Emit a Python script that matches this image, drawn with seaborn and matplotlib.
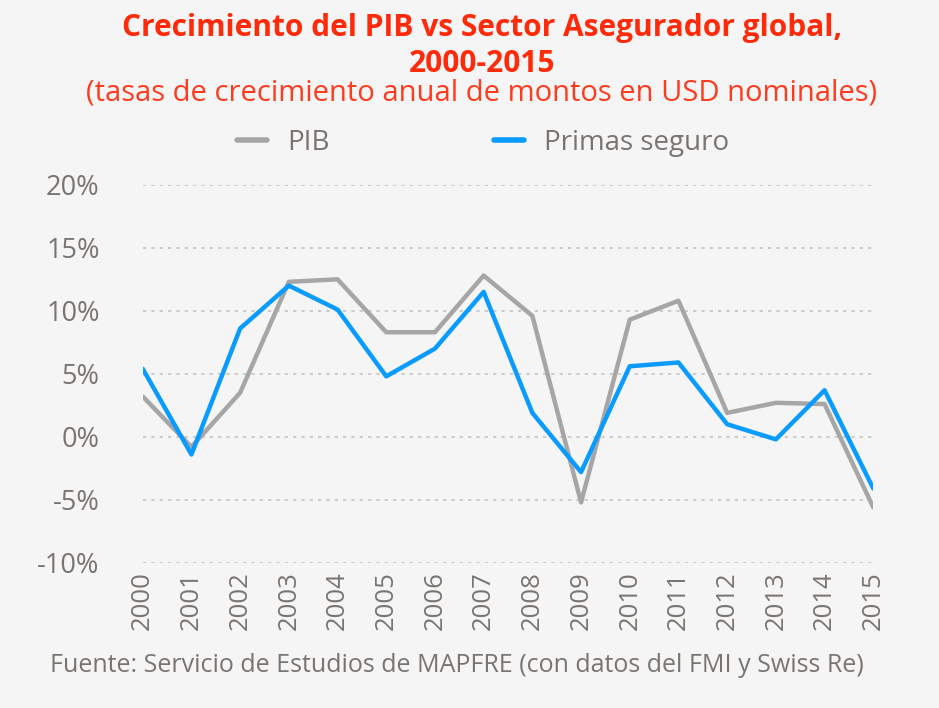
import pandas as pd
import numpy as np
import matplotlib.pyplot as plt
import seaborn as sns
from matplotlib.lines import Line2D

# values (% annual growth)
years = list(range(2000, 2016))
pib = [3.2, -0.8, 3.5, 12.3, 12.5, 8.3, 8.3, 12.8, 9.6, -5.2, 9.3, 10.8, 1.9, 2.7, 2.6, -5.6]
primas = [5.4, -1.4, 8.6, 12.0, 10.1, 4.8, 7.0, 11.5, 1.9, -2.8, 5.6, 5.9, 1.0, -0.2, 3.7, -4.1]
series_names = ["PIB", "Primas seguro"]
y_ticks = [-10, -5, 0, 5, 10, 15, 20]

df = pd.DataFrame({
    "Año": years * 2,
    "Valor": pib + primas,
    "Serie": [series_names[0]] * len(years) + [series_names[1]] * len(years),
})

bg = "#f5f5f5"
txt = "#7a7470"
sns.set_style("white")
plt.rcParams["font.family"] = ["Open Sans", "DejaVu Sans"]

fig = plt.figure(figsize=(9.39, 7.08), dpi=100, facecolor=bg)
ax = fig.add_axes([0.152, 0.205, 0.778, 0.534], facecolor=bg)

palette = {"PIB": "#a6a6a6", "Primas seguro": "#0a9bff"}
sns.lineplot(data=df, x="Año", y="Valor", hue="Serie", palette=palette,
             linewidth=3.2, ax=ax, legend=False)

ax.set_xlim(2000, 2015)
ax.set_ylim(-10, 20)
ax.set_yticks(y_ticks)
ax.set_yticklabels([f"{v}%" for v in y_ticks])
ax.set_xticks(years)
ax.set_xticklabels([str(y) for y in years], rotation=90)
ax.tick_params(axis="both", length=0, labelcolor=txt)
ax.tick_params(axis="y", pad=31, labelsize=19.5)
ax.tick_params(axis="x", pad=6, labelsize=18.5)
ax.yaxis.grid(True, linestyle=(0, (2, 3)), color="#c4c4c4", linewidth=1.2)
ax.set_axisbelow(True)
for s in ax.spines.values():
    s.set_visible(False)
ax.set_xlabel("")
ax.set_ylabel("")

# title & subtitle
fig.text(0.513, 0.981, "Crecimiento del PIB vs Sector Asegurador global,\n2000-2015",
         ha="center", va="top", fontsize=21.5, fontweight="bold", color="#ff2a0a",
         linespacing=1.25)
fig.text(0.513, 0.868, "(tasas de crecimiento anual de montos en USD nominales)",
         ha="center", va="center", fontsize=21, color="#ff3b1f")

# legend
handles = [Line2D([], [], color=palette[n], linewidth=4) for n in series_names]
leg = fig.legend(handles, series_names, loc="center", bbox_to_anchor=(0.5145, 0.798),
                 ncol=2, frameon=False, fontsize=20, handlelength=1.08,
                 columnspacing=5.9, handletextpad=0.72)
for t in leg.get_texts():
    t.set_color(txt)

fig.text(0.053, 0.06, "Fuente: Servicio de Estudios de MAPFRE (con datos del FMI y Swiss Re)",
         ha="left", va="center", fontsize=18, color=txt)

fig.savefig("out.png", dpi=100, facecolor=bg)
